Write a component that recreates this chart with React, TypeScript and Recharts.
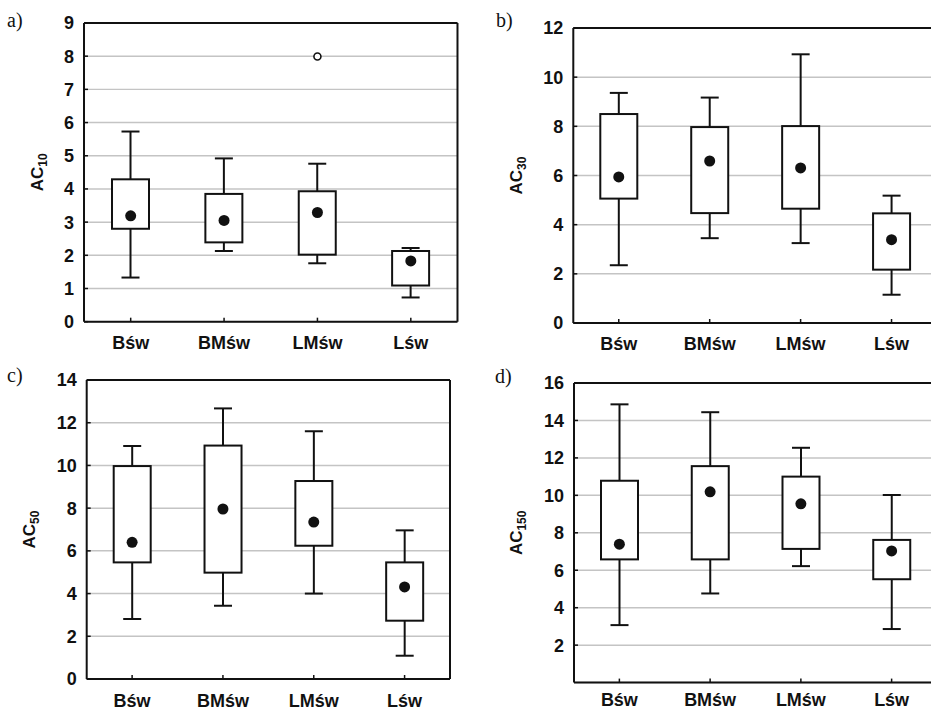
import React from 'react';
import { ComposedChart, Bar, Scatter, XAxis, YAxis, CartesianGrid } from 'recharts';

const categories = ['Bśw', 'BMśw', 'LMśw', 'Lśw'];

// a) AC10
const ac10Min = [1.33, 2.13, 1.76, 0.73];
const ac10Q1 = [2.8, 2.39, 2.02, 1.09];
const ac10Mean = [3.19, 3.05, 3.29, 1.83];
const ac10Q3 = [4.29, 3.85, 3.93, 2.13];
const ac10Max = [5.73, 4.92, 4.76, 2.22];
const ac10Outliers = [null, null, 7.99, null];
const ac10Ticks = [0, 1, 2, 3, 4, 5, 6, 7, 8, 9];

// b) AC30
const ac30Min = [2.35, 3.45, 3.25, 1.15];
const ac30Q1 = [5.06, 4.47, 4.65, 2.17];
const ac30Mean = [5.94, 6.59, 6.31, 3.39];
const ac30Q3 = [8.5, 7.97, 8.01, 4.46];
const ac30Max = [9.36, 9.17, 10.93, 5.18];
const ac30Ticks = [0, 2, 4, 6, 8, 10, 12];

// c) AC50
const ac50Min = [2.81, 3.43, 4.0, 1.09];
const ac50Q1 = [5.46, 4.98, 6.24, 2.73];
const ac50Mean = [6.4, 7.96, 7.35, 4.31];
const ac50Q3 = [9.97, 10.93, 9.27, 5.46];
const ac50Max = [10.91, 12.67, 11.6, 6.96];
const ac50Ticks = [0, 2, 4, 6, 8, 10, 12, 14];

// d) AC150
const ac150Min = [3.07, 4.76, 6.22, 2.86];
const ac150Q1 = [6.58, 6.58, 7.14, 5.52];
const ac150Mean = [7.39, 10.19, 9.55, 7.03];
const ac150Q3 = [10.78, 11.56, 11.0, 7.62];
const ac150Max = [14.86, 14.44, 12.54, 10.02];
const ac150Ticks = [2, 4, 6, 8, 10, 12, 14, 16];

const buildRows = (
  min: number[],
  q1: number[],
  mean: number[],
  q3: number[],
  max: number[],
  outliers?: (number | null)[]
) =>
  categories.map((name, i) => ({
    name,
    base: min[i],
    lower: q1[i] - min[i],
    box: q3[i] - q1[i],
    upper: max[i] - q3[i],
    mean: mean[i],
    outlier: outliers ? outliers[i] : null,
  }));

const INK = '#111';
const FONT = '"Liberation Sans", Arial, sans-serif';
const tickStyle = { fontSize: 18, fontWeight: 700, fill: INK, fontFamily: FONT };

const Empty = () => <g />;

const LowerWhisker = (p: any) => {
  const cx = p.x + p.width / 2;
  const top = Math.min(p.y, p.y + p.height);
  const bot = Math.max(p.y, p.y + p.height);
  return (
    <g stroke={INK} strokeWidth={2}>
      <line x1={cx} x2={cx} y1={top} y2={bot} />
      <line x1={cx - 9} x2={cx + 9} y1={bot} y2={bot} />
    </g>
  );
};

const UpperWhisker = (p: any) => {
  const cx = p.x + p.width / 2;
  const top = Math.min(p.y, p.y + p.height);
  const bot = Math.max(p.y, p.y + p.height);
  return (
    <g stroke={INK} strokeWidth={2}>
      <line x1={cx} x2={cx} y1={top} y2={bot} />
      <line x1={cx - 9} x2={cx + 9} y1={top} y2={top} />
    </g>
  );
};

const BoxShape = (p: any) => {
  const top = Math.min(p.y, p.y + p.height);
  return (
    <rect x={p.x} y={top} width={p.width} height={Math.abs(p.height)} fill="#fff" stroke={INK} strokeWidth={2} />
  );
};

const MeanDot = (p: any) => <circle cx={p.cx} cy={p.cy} r={5.5} fill={INK} />;

const OutlierDot = (p: any) => {
  if (p.payload == null || p.payload.outlier == null) return <g />;
  return <circle cx={p.cx} cy={p.cy} r={3.5} fill="#fff" stroke={INK} strokeWidth={1.6} />;
};

const yTitle = (sub: string, offset: number) => (props: any) => {
  const vb = props.viewBox || { x: 0, y: 0, width: 0, height: 0 };
  const cx = vb.x + vb.width - offset + 5;
  const cy = vb.y + vb.height / 2;
  return (
    <text
      x={cx}
      y={cy}
      transform={`rotate(-90 ${cx} ${cy})`}
      textAnchor="middle"
      fill={INK}
      fontFamily={FONT}
      fontWeight={700}
    >
      <tspan fontSize={17}>AC</tspan>
      <tspan fontSize={12} dy={4}>
        {sub}
      </tspan>
    </text>
  );
};

type PanelProps = {
  rows: any[];
  ticks: number[];
  sub: string;
  titleOffset: number;
  labelGap: number;
  chartLeft: number;
  plotLeft: number;
  plotTop: number;
  plotRight: number;
  plotBottom: number;
};

const Panel = ({ rows, ticks, sub, titleOffset, labelGap, chartLeft, plotLeft, plotTop, plotRight, plotBottom }: PanelProps) => {
  const top = plotTop - 11;
  const height = plotBottom + 40 - top;
  const width = plotRight + 1 - chartLeft;
  const yw = plotLeft - chartLeft;
  const domain = [ticks[0], ticks[ticks.length - 1]];
  return (
    <div style={{ position: 'absolute', left: chartLeft, top }}>
      <ComposedChart width={width} height={height} data={rows} margin={{ top: 10, right: 0, bottom: 0, left: 0 }}>
        <CartesianGrid vertical={false} stroke="#c4c4c4" strokeWidth={1.5} />
        <XAxis
          dataKey="name"
          interval={0}
          height={40}
          tickSize={-4}
          tickMargin={labelGap}
          axisLine={{ stroke: INK, strokeWidth: 2 }}
          tickLine={{ stroke: INK, strokeWidth: 1.5 }}
          tick={tickStyle}
        />
        <XAxis
          xAxisId="t"
          dataKey="name"
          orientation="top"
          interval={0}
          height={1}
          tickSize={-4}
          axisLine={{ stroke: INK, strokeWidth: 2 }}
          tickLine={{ stroke: INK, strokeWidth: 1.5 }}
          tick={false}
        />
        <YAxis
          type="number"
          domain={domain}
          ticks={ticks}
          interval={0}
          width={yw}
          tickSize={-4}
          tickMargin={14}
          axisLine={{ stroke: INK, strokeWidth: 2 }}
          tickLine={{ stroke: INK, strokeWidth: 1.5 }}
          tick={tickStyle}
          label={yTitle(sub, titleOffset)}
        />
        <YAxis
          yAxisId="r"
          orientation="right"
          type="number"
          domain={domain}
          ticks={ticks}
          interval={0}
          width={1}
          tickSize={-4}
          axisLine={{ stroke: INK, strokeWidth: 2 }}
          tickLine={{ stroke: INK, strokeWidth: 1.5 }}
          tick={false}
        />
        <Bar dataKey="base" stackId="s" barSize={37} shape={Empty} isAnimationActive={false} />
        <Bar dataKey="lower" stackId="s" barSize={37} shape={LowerWhisker} isAnimationActive={false} />
        <Bar dataKey="box" stackId="s" barSize={37} shape={BoxShape} isAnimationActive={false} />
        <Bar dataKey="upper" stackId="s" barSize={37} shape={UpperWhisker} isAnimationActive={false} />
        <Scatter dataKey="mean" shape={MeanDot} isAnimationActive={false} />
        <Scatter dataKey="outlier" shape={OutlierDot} isAnimationActive={false} />
      </ComposedChart>
    </div>
  );
};

const App = () => {
  const rowsA = buildRows(ac10Min, ac10Q1, ac10Mean, ac10Q3, ac10Max, ac10Outliers);
  const rowsB = buildRows(ac30Min, ac30Q1, ac30Mean, ac30Q3, ac30Max);
  const rowsC = buildRows(ac50Min, ac50Q1, ac50Mean, ac50Q3, ac50Max);
  const rowsD = buildRows(ac150Min, ac150Q1, ac150Mean, ac150Q3, ac150Max);
  const letter = { fontFamily: '"Liberation Serif", "Times New Roman", serif', fontSize: 20, fill: INK };
  return (
    <div style={{ position: 'absolute', left: 0, top: 0, width: 931, height: 712, overflow: 'hidden', background: '#fff' }}>
      <svg width={931} height={712} style={{ position: 'absolute', left: 0, top: 0 }}>
        <text x={7} y={27} {...letter}>a)</text>
        <text x={496} y={27} {...letter}>b)</text>
        <text x={7} y={382} {...letter}>c)</text>
        <text x={495} y={383} {...letter}>d)</text>
      </svg>
      <Panel rows={rowsA} ticks={ac10Ticks} sub="10" titleOffset={46.5} labelGap={19} chartLeft={0} plotLeft={84} plotTop={23.3} plotRight={457.5} plotBottom={322} />
      <Panel rows={rowsB} ticks={ac30Ticks} sub="30" titleOffset={56} labelGap={18} chartLeft={470} plotLeft={573.3} plotTop={27.7} plotRight={937} plotBottom={322.7} />
      <Panel rows={rowsC} ticks={ac50Ticks} sub="50" titleOffset={57} labelGap={19} chartLeft={0} plotLeft={86.7} plotTop={380} plotRight={450} plotBottom={679} />
      <Panel rows={rowsD} ticks={ac150Ticks} sub="150" titleOffset={57} labelGap={15} chartLeft={470} plotLeft={574} plotTop={382.7} plotRight={937} plotBottom={682.3} />
    </div>
  );
};

export default App;
